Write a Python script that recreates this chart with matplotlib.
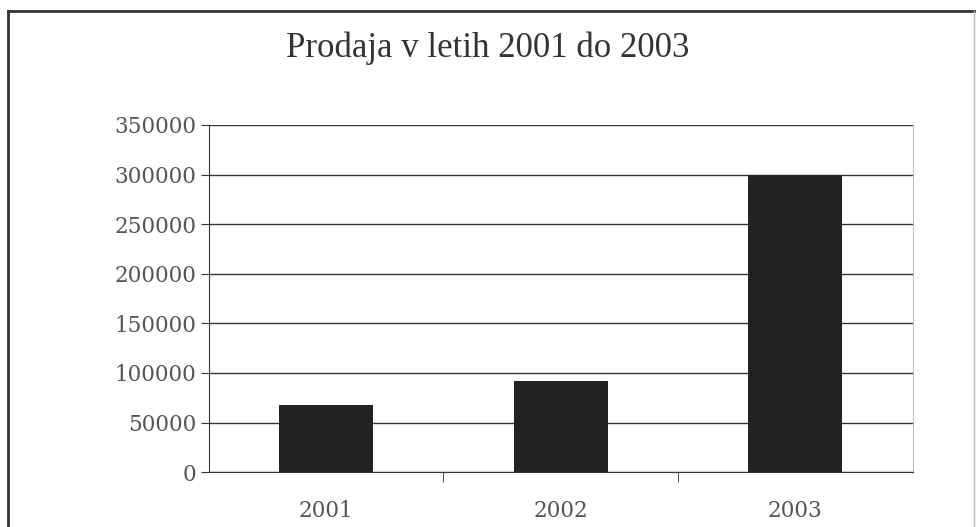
import matplotlib
matplotlib.use("Agg")
import matplotlib.pyplot as plt
from matplotlib.lines import Line2D

years = ["2001", "2002", "2003"]
sales = [68000, 92000, 300000]
yticks = [0, 50000, 100000, 150000, 200000, 250000, 300000, 350000]
title = "Prodaja v letih 2001 do 2003"

plt.rcParams['font.family'] = ['Liberation Serif', 'DejaVu Serif']

fig = plt.figure(figsize=(9.76, 5.27), dpi=100)
ax = fig.add_axes([0.214, 0.104, 0.721, 0.659])

x = range(len(years))
ax.bar(x, sales, width=0.4, color="#222222", zorder=3)
ax.set_xlim(-0.5, len(years) - 0.5)
ax.set_ylim(0, 350000)
ax.set_yticks(yticks)
ax.set_yticklabels([str(v) for v in yticks], fontsize=15.5, color="#555555",
                   family=["DejaVu Serif"])
ax.set_xticks(list(x))
ax.set_xticklabels(years, fontsize=15.5, color="#555555", family=["DejaVu Serif"])
ax.set_xticks([0.5, 1.5], minor=True)
ax.tick_params(axis="x", which="major", length=0, pad=20)
ax.tick_params(axis="x", which="minor", length=7, color="#333333", direction="out")
ax.tick_params(axis="y", length=6, color="#333333", pad=3)
ax.grid(axis="y", color="#333333", linewidth=1.0, zorder=0)
ax.spines["top"].set_visible(False)
ax.spines["right"].set_color("#bbbbbb")
ax.spines["left"].set_color("#333333")
ax.spines["bottom"].set_color("#333333")

fig.text(0.5, 0.908, title, ha="center", va="center", fontsize=25, color="#333333")

# outer frame
fig.add_artist(Line2D([0.008, 1.0], [0.979, 0.979], transform=fig.transFigure, color="#333333", lw=2))
fig.add_artist(Line2D([0.008, 0.008], [0.0, 0.979], transform=fig.transFigure, color="#333333", lw=2))
fig.add_artist(Line2D([0.998, 0.998], [0.0, 0.979], transform=fig.transFigure, color="#bbbbbb", lw=1))

fig.savefig("out.png", dpi=100)
